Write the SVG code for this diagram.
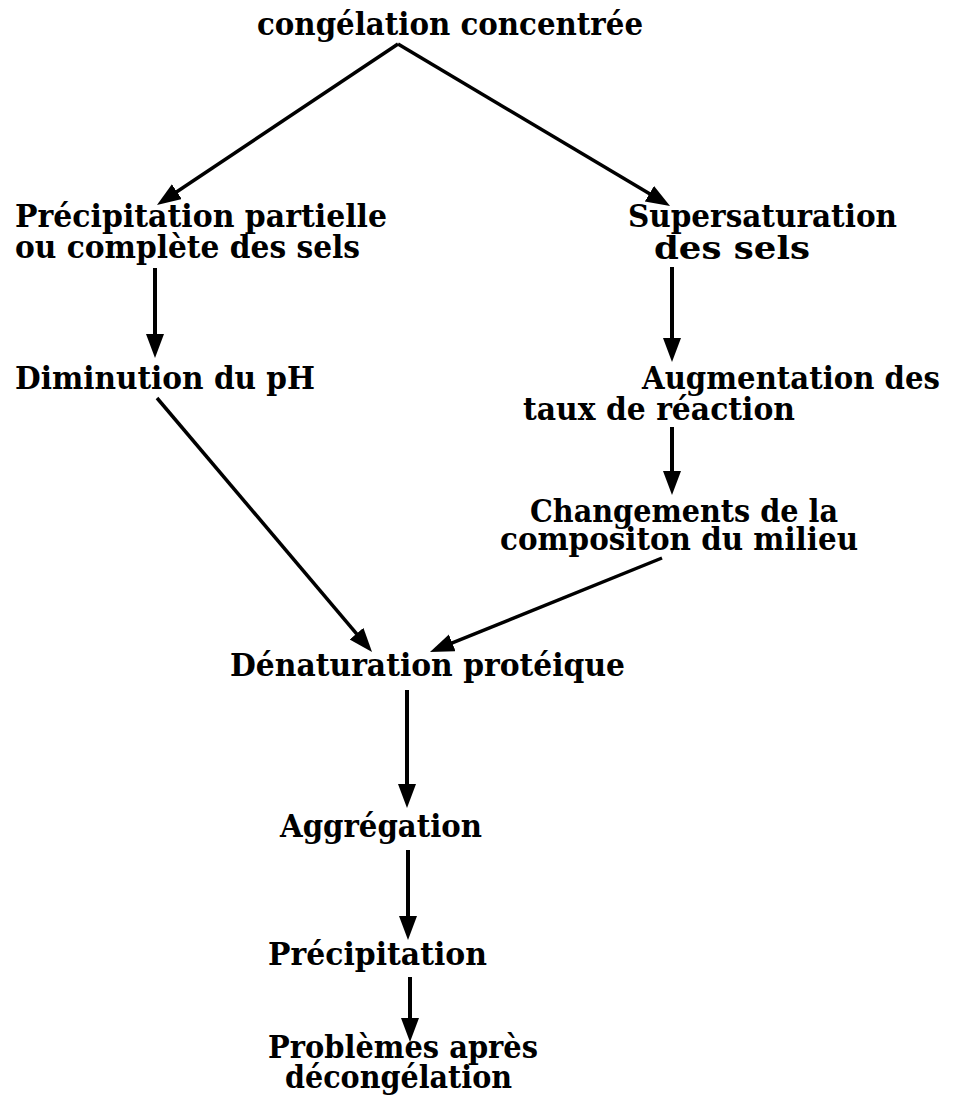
<svg xmlns="http://www.w3.org/2000/svg" width="957" height="1103" viewBox="0 0 957 1103">
<style>
text{font-family:"DejaVu Serif","Liberation Serif",serif;font-weight:bold;font-size:32px;fill:#000}
.c line{stroke:#000;stroke-linecap:butt}
.d{stroke-width:3.5}
.v{stroke-width:4}
</style>
<defs>
<marker id="ah" markerUnits="userSpaceOnUse" markerWidth="26" markerHeight="20" refX="10" refY="9" orient="auto" viewBox="0 0 26 20">
<path d="M0,0 L24,9 L0,18 z" fill="#000"/>
</marker>
</defs>
<rect width="957" height="1103" fill="#fff"/>
<g id="n-congelation"><text x="257" y="35" textLength="386" lengthAdjust="spacingAndGlyphs">congélation concentrée</text></g>
<g id="n-precipitation-sels"><text x="15" y="227" textLength="372" lengthAdjust="spacingAndGlyphs">Précipitation partielle</text><text x="15" y="258" textLength="345" lengthAdjust="spacingAndGlyphs">ou complète des sels</text></g>
<g id="n-supersaturation"><text x="628" y="227" textLength="269" lengthAdjust="spacingAndGlyphs">Supersaturation</text><text x="654" y="259" textLength="156" lengthAdjust="spacingAndGlyphs">des sels</text></g>
<g id="n-diminution"><text x="15" y="389" textLength="300" lengthAdjust="spacingAndGlyphs">Diminution du pH</text></g>
<g id="n-augmentation"><text x="642" y="389" textLength="298" lengthAdjust="spacingAndGlyphs">Augmentation des</text><text x="523" y="420" textLength="272" lengthAdjust="spacingAndGlyphs">taux de réaction</text></g>
<g id="n-changements"><text x="530" y="522" textLength="308" lengthAdjust="spacingAndGlyphs">Changements de la</text><text x="500" y="550" textLength="358" lengthAdjust="spacingAndGlyphs">compositon du milieu</text></g>
<g id="n-denaturation"><text x="230" y="676" textLength="395" lengthAdjust="spacingAndGlyphs">Dénaturation protéique</text></g>
<g id="n-aggregation"><text x="280" y="837" textLength="202" lengthAdjust="spacingAndGlyphs">Aggrégation</text></g>
<g id="n-precipitation"><text x="268" y="965" textLength="219" lengthAdjust="spacingAndGlyphs">Précipitation</text></g>
<g id="n-problemes"><text x="268" y="1058" textLength="270" lengthAdjust="spacingAndGlyphs">Problèmes après</text><text x="285" y="1088" textLength="227" lengthAdjust="spacingAndGlyphs">décongélation</text></g>
<g id="connectors" class="c">
<line class="d" x1="398" y1="44" x2="168.6" y2="197.2" marker-end="url(#ah)"/>
<line class="d" x1="398" y1="44" x2="658" y2="198.8" marker-end="url(#ah)"/>
<line class="v" x1="155" y1="268" x2="155" y2="344" marker-end="url(#ah)"/>
<line class="v" x1="672" y1="267" x2="672" y2="348" marker-end="url(#ah)"/>
<line class="v" x1="672" y1="427" x2="672" y2="481" marker-end="url(#ah)"/>
<line class="d" x1="157" y1="398" x2="363" y2="641.3" marker-end="url(#ah)"/>
<line class="d" x1="662" y1="558" x2="443" y2="646.7" marker-end="url(#ah)"/>
<line class="v" x1="407" y1="690" x2="407" y2="794" marker-end="url(#ah)"/>
<line class="v" x1="408" y1="850" x2="408" y2="926" marker-end="url(#ah)"/>
<line class="v" x1="410" y1="977" x2="410" y2="1028" marker-end="url(#ah)"/>
</g>
</svg>
